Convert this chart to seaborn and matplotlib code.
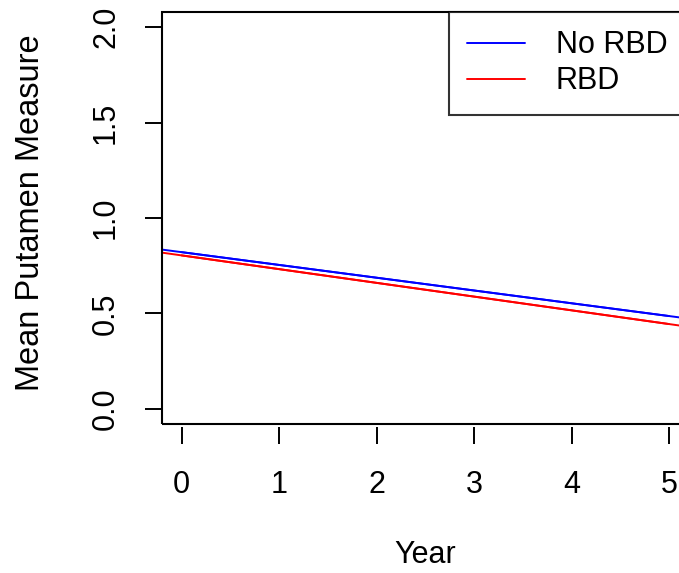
import matplotlib
matplotlib.use("Agg")
import matplotlib.pyplot as plt
import matplotlib.patches as mpatches
import seaborn as sns
import pandas as pd

# Data
groups = ["No RBD", "RBD"]
colors = ["#0000FF", "#FF0000"]
years_ref = [0, 5]
no_rbd_vals = [0.821, 0.486]
rbd_vals = [0.804, 0.444]
x_ticks = [0, 1, 2, 3, 4, 5]
y_ticks = [0.0, 0.5, 1.0, 1.5, 2.0]
y_tick_labels = ["0.0", "0.5", "1.0", "1.5", "2.0"]

sns.set_style("white")
plt.rcParams["font.family"] = ["Liberation Sans", "DejaVu Sans"]
plt.rcParams["text.color"] = "black"
plt.rcParams["axes.labelcolor"] = "black"
plt.rcParams["xtick.color"] = "black"
plt.rcParams["ytick.color"] = "black"

fig = plt.figure(figsize=(6.79, 5.73), dpi=100)
ax = fig.add_axes([162 / 679, 1 - 424 / 573, 526.5 / 679, 412 / 573])

df = pd.DataFrame({
    "Year": years_ref * 2,
    "Value": no_rbd_vals + rbd_vals,
    "Group": [groups[0]] * 2 + [groups[1]] * 2,
})
sns.lineplot(data=df, x="Year", y="Value", hue="Group", palette=colors,
             ax=ax, lw=1.4, legend=False)
# extend as full lines across the plot region (like abline)
for vals, c in zip([no_rbd_vals, rbd_vals], colors):
    ax.axline((years_ref[0], vals[0]), (years_ref[1], vals[1]), color=c, lw=1.4)

for s in ax.spines.values():
    s.set_visible(False)
ax.spines["bottom"].set_position(("outward", 2.5))
ax.add_patch(mpatches.Rectangle((0, 0), 1, 1, transform=ax.transAxes,
                                fill=False, lw=1.5, ec="black", clip_on=False, zorder=5))

ax.set_xlim(-0.2, 5.2)
ax.set_ylim(-0.08, 2.08)
ax.set_xticks(x_ticks)
ax.set_xticklabels([str(t) for t in x_ticks])
ax.set_yticks(y_ticks)
ax.set_yticklabels(y_tick_labels, rotation=90, va="center")

ax.tick_params(axis="both", which="major", direction="out", length=12.5,
               width=1.4, color="black", labelcolor="black", labelsize=22,
               bottom=True, left=True)
ax.tick_params(axis="x", pad=18)
ax.tick_params(axis="y", pad=17)

ax.set_xlabel("Year", fontsize=22, va="center", color="black")
ax.xaxis.set_label_coords(0.5, -0.318)
ax.set_ylabel("Mean Putamen Measure", fontsize=23.5, va="center", color="black")
ax.yaxis.set_label_coords(-0.2507, 0.512)

handles = [plt.Line2D([], [], color=c, lw=1.4) for c in colors]
leg = ax.legend(handles, groups, loc="upper left", bbox_to_anchor=(0.545, 1.0),
                borderaxespad=0, fontsize=22, frameon=True, fancybox=False,
                edgecolor="black", handlelength=1.9, handletextpad=1.0,
                labelspacing=0.2, borderpad=0.6)
leg.get_frame().set_linewidth(1.5)
for t in leg.get_texts():
    t.set_color("black")

fig.savefig("out.png", dpi=100)
